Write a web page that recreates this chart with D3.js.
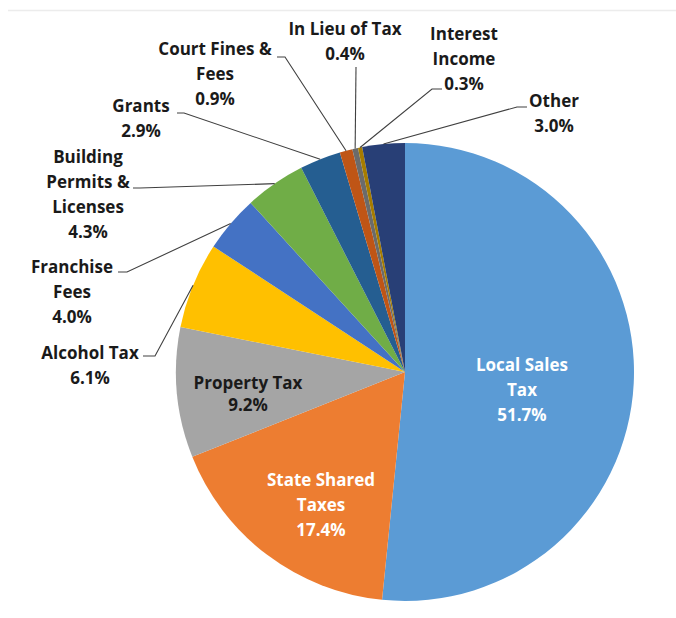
<!DOCTYPE html>
<html>
<head>
<meta charset="utf-8">
<script src="https://cdn.jsdelivr.net/npm/d3@7"></script>
<style>
  html, body { margin: 0; padding: 0; background: #fff; }
  svg { display: block; }
  text { font-family: "Open Sans", Lato, sans-serif; font-weight: bold; font-size: 17px; }
</style>
</head>
<body>
<svg id="chart" width="676" height="618"></svg>
<script>
// Revenue sources, share of total (%)
const categories = [
  "Local Sales Tax", "State Shared Taxes", "Property Tax", "Alcohol Tax",
  "Franchise Fees", "Building Permits & Licenses", "Grants",
  "Court Fines & Fees", "In Lieu of Tax", "Interest Income", "Other"
];
const values = [51.7, 17.4, 9.2, 6.1, 4.0, 4.3, 2.9, 0.9, 0.4, 0.3, 3.0];

// How each category name wraps in its label
const labelLines = [
  ["Local Sales", "Tax"], ["State Shared", "Taxes"], ["Property Tax"], ["Alcohol Tax"],
  ["Franchise", "Fees"], ["Building", "Permits &", "Licenses"], ["Grants"],
  ["Court Fines &", "Fees"], ["In Lieu of Tax"], ["Interest", "Income"], ["Other"]
];

const palette = ["#5B9BD5", "#ED7D31", "#A5A5A5", "#FFC000", "#4472C4", "#70AD47",
                 "#255E91", "#BF5516", "#6B6B6B", "#A67C00", "#283F76"];

const svg = d3.select("#chart");
const cx = 405, cy = 372, radius = 229;
const lineH = 25;

// faint frame rule along the top
svg.append("line").attr("x1", 8).attr("x2", 676).attr("y1", 10.5).attr("y2", 10.5)
  .attr("stroke", "#ececec").attr("stroke-width", 1.5);

const pie = d3.pie().sort(null).value(d => d.v).startAngle(0).endAngle(2 * Math.PI);
const data = categories.map((c, i) => ({ c, v: values[i], lines: labelLines[i], color: palette[i] }));
const arcs = pie(data);

const arc = d3.arc().innerRadius(0).outerRadius(radius);
const edge = d3.arc().innerRadius(radius).outerRadius(radius);

const g = svg.append("g").attr("transform", `translate(${cx},${cy})`);
g.selectAll("path.slice").data(arcs).join("path")
  .attr("class", "slice")
  .attr("d", arc)
  .attr("fill", d => d.data.color);

const fmt = v => d3.format(".1f")(v) + "%";

// label placement: centre x, first baseline y, text colour, leader path (label side)
const layout = {
  "Local Sales Tax":            { x: 522, y: 371, fill: "#fff" },
  "State Shared Taxes":         { x: 321, y: 486, fill: "#fff" },
  "Property Tax":               { x: 248, y: 389, fill: "#1a1a1a", gap: 22 },
  "Alcohol Tax":                { x: 90,  y: 359, fill: "#1a1a1a", leader: [[143, 356], [155, 356]] },
  "Franchise Fees":             { x: 72,  y: 273, fill: "#1a1a1a", leader: [[118, 272], [127, 272]] },
  "Building Permits & Licenses":{ x: 88,  y: 163, fill: "#1a1a1a", leader: [[133, 188], [140, 188]] },
  "Grants":                     { x: 141, y: 112, fill: "#1a1a1a", leader: [[177, 113], [184, 113]] },
  "Court Fines & Fees":         { x: 215, y: 55,  fill: "#1a1a1a", leader: [[277, 57], [285, 57]] },
  "In Lieu of Tax":             { x: 345, y: 35,  fill: "#1a1a1a", leader: [[356, 67], [356, 67]] },
  "Interest Income":            { x: 464, y: 40,  fill: "#1a1a1a", leader: [[442, 89], [432, 89]] },
  "Other":                      { x: 554, y: 107, fill: "#1a1a1a", leader: [[527, 107], [517, 107]] }
};

// leader lines from the slice's outer edge to its label
arcs.forEach(a => {
  const L = layout[a.data.c];
  if (!L.leader) return;
  const [ex, ey] = edge.centroid(a);
  const pts = [L.leader[0], L.leader[1], [cx + ex, cy + ey]];
  svg.append("path")
    .attr("d", d3.line()(pts))
    .attr("fill", "none")
    .attr("stroke", "#404040")
    .attr("stroke-width", 1.1);
});

// labels
arcs.forEach(a => {
  const L = layout[a.data.c];
  const rows = a.data.lines.concat([fmt(a.data.v)]);
  const t = svg.append("text")
    .attr("text-anchor", "middle")
    .attr("fill", L.fill);
  rows.forEach((r, i) => {
    t.append("tspan")
      .attr("x", L.x)
      .attr("y", L.y + i * (L.gap || lineH))
      .text(r);
  });
});
</script>
</body>
</html>
